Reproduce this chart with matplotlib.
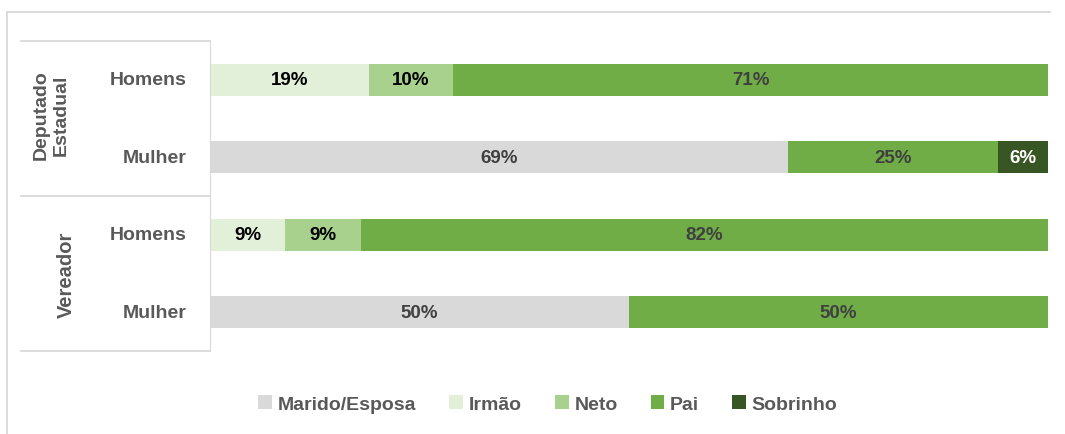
import matplotlib
matplotlib.use("Agg")
from matplotlib import pyplot as plt
from matplotlib.patches import Patch
from matplotlib.lines import Line2D

rows = ["Homens", "Mulher", "Homens", "Mulher"]
groups = ["Deputado\nEstadual", "Vereador"]
series = ["Marido/Esposa", "Irmão", "Neto", "Pai", "Sobrinho"]
marido = [0, 69, 0, 50]
irmao = [19, 0, 9, 0]
neto = [10, 0, 9, 0]
pai = [71, 25, 82, 50]
sobrinho = [0, 6, 0, 0]

colors = ["#D9D9D9", "#E2F0D9", "#A9D18E", "#70AD47", "#375623"]
label_colors = ["#404040", "#000000", "#000000", "#404040", "#FFFFFF"]
font = "Liberation Sans"

fig = plt.figure(figsize=(10.65, 4.35), dpi=100)
ax = fig.add_axes([210 / 1065, 1 - 352 / 435, 838 / 1065, 310 / 435])

ypos = [3, 2, 1, 0]
left = [0, 0, 0, 0]
for vals, c, lc, name in zip([marido, irmao, neto, pai, sobrinho], colors, label_colors, series):
    ax.barh(ypos, vals, left=left, height=0.41, color=c, label=name)
    for y, l, v in zip(ypos, left, vals):
        if v > 0:
            ax.text(l + v / 2, y, f"{v}%", ha="center", va="center",
                    fontsize=13.5, fontweight="bold", color=lc, family=font)
    left = [a + b for a, b in zip(left, vals)]

ax.set_xlim(0, 100)
ax.set_ylim(-0.5, 3.5)
ax.set_xticks([])
ax.set_yticks([])
for s in ["top", "right", "bottom"]:
    ax.spines[s].set_visible(False)
ax.spines["left"].set_color("#D9D9D9")

# row labels
for y, r in zip(ypos, rows):
    fig.text(187 / 1065, 1 - (352 - (y + 0.5) * 77.5) / 435, r, ha="right", va="center",
             fontsize=14, fontweight="bold", color="#595959", family=font)

# group labels
fig.text(51 / 1065, 1 - 115 / 435, groups[0], rotation=90, ha="center", va="center",
         fontsize=14, fontweight="bold", color="#595959", family=font, linespacing=1.2)
fig.text(66 / 1065, 1 - 275 / 435, groups[1], rotation=90, ha="center", va="center",
         fontsize=14.5, fontweight="bold", color="#595959", family=font)

# group separators and frame lines
lc = "#D9D9D9"
for yy in [42, 197, 352]:
    fig.add_artist(Line2D([21 / 1065, 210 / 1065], [1 - yy / 435] * 2, color=lc, lw=1.3))
fig.add_artist(Line2D([7 / 1065, 1050 / 1065], [1 - 13 / 435] * 2, color=lc, lw=1.3))
fig.add_artist(Line2D([7 / 1065] * 2, [1 - 13 / 435, 0], color=lc, lw=1.3))

handles = [Patch(facecolor=c, edgecolor="none") for c in colors]
leg = fig.legend(handles, series, loc="center", bbox_to_anchor=(548 / 1065, 1 - 405 / 435),
                 ncol=5, frameon=False, handlelength=0.7, handleheight=0.7,
                 handletextpad=0.3, columnspacing=1.7,
                 prop={"family": font, "weight": "bold", "size": 14})
for t in leg.get_texts():
    t.set_color("#595959")

fig.savefig("out.png", dpi=100)
